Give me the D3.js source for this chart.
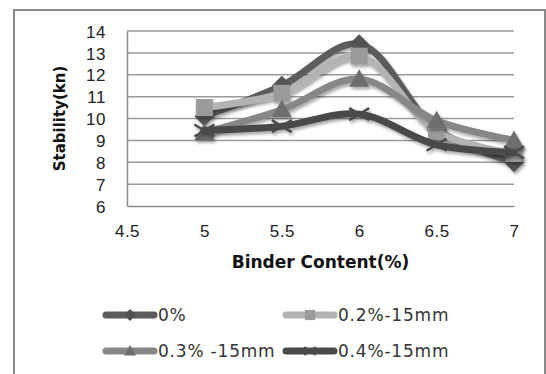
<!DOCTYPE html>
<html>
<head>
<meta charset="utf-8">
<script src="https://cdn.jsdelivr.net/npm/d3@7"></script>
<style>
  body { margin: 0; background: #fff; }
  svg { display: block; font-family: "DejaVu Sans", sans-serif; }
  .tick text { fill: #222; font-size: 17px; letter-spacing: 0.5px; }
  .title { font-weight: bold; fill: #111; }
  .legend text { fill: #333; font-size: 17px; letter-spacing: 0.8px; }
</style>
</head>
<body>
<svg width="546" height="374"></svg>
<script>
// data
const binder = [5, 5.5, 6, 6.5, 7]
const xTicks = [4.5, 5, 5.5, 6, 6.5, 7]
const yTicks = [6, 7, 8, 9, 10, 11, 12, 13, 14]
const seriesNames = ["0%", "0.2%-15mm", "0.3% -15mm", "0.4%-15mm"]
const s0 = [10.1, 11.5, 13.4, 9.5, 8.0]
const s02 = [10.5, 11.15, 12.85, 9.4, 8.4]
const s03 = [9.35, 10.4, 11.8, 9.9, 9.0]
const s04 = [9.45, 9.65, 10.2, 8.8, 8.45]

const svg = d3.select("svg")

// look of each series
const styles = [
  { line: "#5c5c5c", fill: "#525252", marker: "diamond" },
  { line: "#b3b3b3", fill: "#9a9a9a", marker: "square" },
  { line: "#878787", fill: "#6e6e6e", marker: "triangle" },
  { line: "#4a4a4a", fill: "#4a4a4a", marker: "x" }
]
const series = [s0, s02, s03, s04].map((vals, i) => ({
  name: seriesNames[i],
  style: styles[i],
  points: vals.map((v, j) => ({ x: binder[j], y: v }))
}))

// shadow like the office chart
const defs = svg.append("defs")
defs.append("filter")
  .attr("id", "shadow")
  .attr("x", "-20%").attr("y", "-20%")
  .attr("width", "140%").attr("height", "160%")
  .append("feDropShadow")
  .attr("dx", 1.5).attr("dy", 2.5)
  .attr("stdDeviation", 1.8)
  .attr("flood-color", "#000")
  .attr("flood-opacity", 0.35)

// outer frame
svg.append("rect")
  .attr("x", 14).attr("y", 10)
  .attr("width", 531).attr("height", 380)
  .attr("fill", "none")
  .attr("stroke", "#8a8a8a")
  .attr("stroke-width", 2)

// scales
const x = d3.scaleLinear().domain([4.5, 7]).range([127, 514])
const y = d3.scaleLinear().domain([6, 14]).range([206, 31])

// gridlines
svg.append("g")
  .selectAll("line")
  .data(yTicks.slice(1))
  .enter()
  .append("line")
  .attr("x1", x(4.5)).attr("x2", x(7))
  .attr("y1", d => y(d)).attr("y2", d => y(d))
  .attr("stroke", "#9a9a9a")
  .attr("stroke-width", 1.5)

// y axis
const yAxis = svg.append("g")
  .attr("transform", `translate(${x(4.5)},0)`)
  .call(d3.axisLeft(y).tickValues(yTicks).tickFormat(d => d).tickSize(0).tickPadding(21))
yAxis.select(".domain").attr("stroke", "#8a8a8a").attr("stroke-width", 1.5)
yAxis.selectAll(".tick text").attr("dy", "0.36em")

// x axis
const xAxis = svg.append("g")
  .attr("transform", `translate(0,${y(6)})`)
  .call(d3.axisBottom(x).tickValues(xTicks).tickFormat(d => d).tickSize(0).tickPadding(19))
xAxis.select(".domain").attr("stroke", "#8a8a8a").attr("stroke-width", 1.5)

// axis titles
svg.append("text")
  .attr("class", "title")
  .attr("x", (x(4.5) + x(7)) / 2)
  .attr("y", 268)
  .attr("text-anchor", "middle")
  .style("font-size", "17px")
  .text("Binder Content(%)")

svg.append("text")
  .attr("class", "title")
  .attr("transform", `translate(65,${(y(6) + y(14)) / 2}) rotate(-90)`)
  .attr("text-anchor", "middle")
  .style("font-size", "15px")
  .text("Stability(kn)")

// markers
const drawMarker = (g, kind, st, s) => {
  if (kind == "diamond") {
    g.append("path")
      .attr("d", `M0,${-s}L${s},0L0,${s}L${-s},0Z`)
      .attr("fill", st.fill)
  } else if (kind == "square") {
    g.append("rect")
      .attr("x", -s * 0.85).attr("y", -s * 0.85)
      .attr("width", s * 1.7).attr("height", s * 1.7)
      .attr("fill", st.fill)
  } else if (kind == "triangle") {
    g.append("path")
      .attr("d", `M0,${-s}L${s},${s * 0.75}L${-s},${s * 0.75}Z`)
      .attr("fill", st.fill)
  } else {
    g.append("path")
      .attr("d", `M${-s},${-s * 0.6}L${s},${s * 0.6}M${-s},${s * 0.6}L${s},${-s * 0.6}`)
      .attr("stroke", st.fill)
      .attr("stroke-width", 2.5)
      .attr("fill", "none")
  }
}

// lines
const line = d3.line()
  .x(d => x(d.x))
  .y(d => y(d.y))
  .curve(d3.curveCatmullRom.alpha(0.5))

const groups = svg.selectAll("g.series")
  .data(series)
  .enter()
  .append("g")
  .attr("class", "series")
  .attr("filter", "url(#shadow)")

groups.append("path")
  .attr("d", d => line(d.points))
  .attr("fill", "none")
  .attr("stroke", d => d.style.line)
  .attr("stroke-width", 7)
  .attr("stroke-linecap", "round")

groups.each(function (d) {
  const g = d3.select(this)
  d.points.forEach(p => {
    const m = g.append("g").attr("transform", `translate(${x(p.x)},${y(p.y)})`)
    drawMarker(m, d.style.marker, d.style, 10)
  })
})

// legend
const legendPos = [[103, 315], [283, 315], [103, 351], [283, 351]]
const legend = svg.selectAll("g.legend")
  .data(series)
  .enter()
  .append("g")
  .attr("class", "legend")
  .attr("transform", (d, i) => `translate(${legendPos[i][0]},${legendPos[i][1]})`)

legend.append("line")
  .attr("x1", 3).attr("x2", 51)
  .attr("stroke", d => d.style.line)
  .attr("stroke-width", 7)
  .attr("stroke-linecap", "round")

legend.each(function (d) {
  const m = d3.select(this).append("g").attr("transform", "translate(27,0)")
  drawMarker(m, d.style.marker, d.style, 6)
})

legend.append("text")
  .attr("x", 55)
  .attr("dy", "0.36em")
  .text(d => d.name)
</script>
</body>
</html>
